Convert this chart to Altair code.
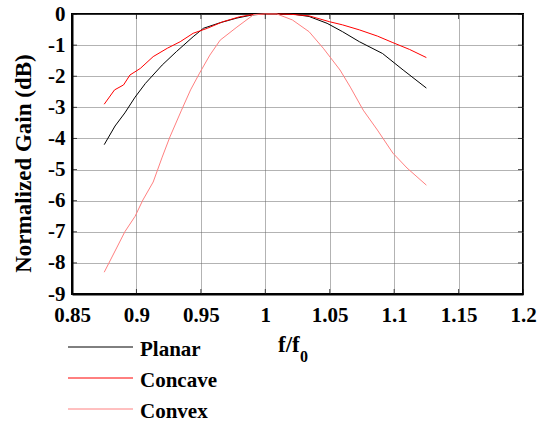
import altair as alt
import pandas as pd

series_names = ["Planar", "Concave", "Convex"]
series_colors = ["#000000", "#ff0000", "#ff8080"]

planar_x = [0.875, 0.8834, 0.891, 0.899, 0.907, 0.920, 0.931, 0.944, 0.952, 0.965, 0.978, 0.990,
            1.0, 1.010, 1.021, 1.034, 1.048, 1.060, 1.073, 1.091, 1.107, 1.125]
planar_y = [-4.2, -3.6, -3.18, -2.67, -2.23, -1.64, -1.21, -0.73, -0.46, -0.28, -0.13, -0.03,
            0.0, 0.0, 0.0, -0.08, -0.3, -0.57, -0.89, -1.27, -1.8, -2.38]

concave_x = [0.875, 0.883, 0.890, 0.895, 0.903, 0.913, 0.924, 0.934, 0.944, 0.955, 0.967, 0.980,
             0.990, 1.0, 1.010, 1.020, 1.034, 1.050, 1.060, 1.073, 1.087, 1.099, 1.112, 1.125]
concave_y = [-2.9, -2.44, -2.28, -1.96, -1.75, -1.37, -1.1, -0.89, -0.62, -0.46, -0.25, -0.09,
             -0.02, 0.0, 0.0, -0.01, -0.06, -0.25, -0.35, -0.51, -0.71, -0.92, -1.14, -1.4]

convex_x = [0.875, 0.885, 0.891, 0.899, 0.905, 0.913, 0.920, 0.926, 0.935, 0.942, 0.949, 0.957,
            0.965, 0.978, 0.991, 1.0, 1.009, 1.021, 1.034, 1.045, 1.058, 1.066, 1.076, 1.087,
            1.099, 1.110, 1.125]
convex_y = [-8.3, -7.49, -7.0, -6.5, -5.98, -5.4, -4.6, -3.95, -3.09, -2.44, -1.9, -1.32,
            -0.84, -0.42, -0.02, 0.0, 0.0, -0.19, -0.57, -1.1, -1.8, -2.35, -3.09, -3.73,
            -4.47, -4.95, -5.5]

x_ticks = [0.85, 0.9, 0.95, 1.0, 1.05, 1.1, 1.15, 1.2]
y_ticks = [0, -1, -2, -3, -4, -5, -6, -7, -8, -9]

x_title = "f/f"
x_title_sub = "0"
y_title = "Normalized Gain (dB)"

rows = []
for name, xs, ys in zip(series_names, [planar_x, concave_x, convex_x], [planar_y, concave_y, convex_y]):
    for i, (a, b) in enumerate(zip(xs, ys)):
        rows.append({"series": name, "f": a, "gain": b, "order": i})
df = pd.DataFrame(rows)

W, H = 451, 280
FONT = "Liberation Serif"
BOLD = "bold"
GRID = "#666666"

xscale = alt.Scale(domain=[0.85, 1.2], nice=False, zero=False)
yscale = alt.Scale(domain=[-9, 0], nice=False, zero=False)
color = alt.Color("series:N", scale=alt.Scale(domain=series_names, range=series_colors), legend=None)

lines = alt.Chart(df).mark_line(strokeWidth=1).encode(
    x=alt.X("f:Q", scale=xscale,
            axis=alt.Axis(values=x_ticks, format="~g", title=None, grid=True,
                          gridColor=GRID, gridDash=[1, 1], gridWidth=1, ticks=False,
                          labelFont=FONT, labelFontSize=21, labelFontWeight=BOLD,
                          labelColor="black", labelPadding=10, labelFlush=False,
                          domainColor="black", domainWidth=2)),
    y=alt.Y("gain:Q", scale=yscale,
            axis=alt.Axis(values=y_ticks, labelExpr="'' + datum.value", title=y_title,
                          grid=True, gridColor=GRID, gridDash=[1, 1], gridWidth=1, ticks=False,
                          labelFont=FONT, labelFontSize=21, labelFontWeight=BOLD,
                          labelColor="black", labelPadding=7, labelFlush=False,
                          domainColor="black", domainWidth=2,
                          titleFont=FONT, titleFontSize=23, titleFontWeight=BOLD,
                          titleColor="black", titleAngle=-90, titleX=-49, titleY=149,
                          titleAlign="center", titleBaseline="middle")),
    color=color,
    order="order:Q",
)

xt = pd.DataFrame({"t": x_ticks})
yt = pd.DataFrame({"t": y_ticks})

tick_style = dict(color="black", thickness=1, size=5)
bottom_ticks = alt.Chart(xt).mark_tick(orient="vertical", **tick_style).encode(
    x=alt.X("t:Q", scale=xscale, axis=None), y=alt.value(H - 2.5))
top_ticks = alt.Chart(xt).mark_tick(orient="vertical", **tick_style).encode(
    x=alt.X("t:Q", scale=xscale, axis=None), y=alt.value(2.5))
left_ticks = alt.Chart(yt).mark_tick(orient="horizontal", **tick_style).encode(
    y=alt.Y("t:Q", scale=yscale, axis=None), x=alt.value(2.5))
right_ticks = alt.Chart(yt).mark_tick(orient="horizontal", **tick_style).encode(
    y=alt.Y("t:Q", scale=yscale, axis=None), x=alt.value(W - 2.5))

leg_df = pd.DataFrame({"series": series_names})
leg_y = alt.Y("series:N", scale=alt.Scale(type="point", domain=series_names, range=[333, 395], padding=0),
              axis=None)
leg_rules = alt.Chart(leg_df).mark_rule(strokeWidth=1).encode(
    x=alt.value(-4), x2=alt.value(61), y=leg_y, color=color)
leg_text = alt.Chart(leg_df).mark_text(align="left", baseline="middle", font=FONT, fontSize=21,
                                       fontWeight=BOLD, dy=3, color="black").encode(
    x=alt.value(68), y=leg_y, text="series:N")

xt_df = pd.DataFrame({"label": [x_title]})
xs_df = pd.DataFrame({"label": [x_title_sub]})
xtitle = alt.Chart(xt_df).mark_text(align="left", baseline="alphabetic", font=FONT, fontSize=23,
                                    fontWeight=BOLD, color="black").encode(
    x=alt.value(206), y=alt.value(338), text="label:N")
xsub = alt.Chart(xs_df).mark_text(align="left", baseline="alphabetic", font=FONT, fontSize=16,
                                  fontWeight=BOLD, color="black").encode(
    x=alt.value(228), y=alt.value(348), text="label:N")

chart = alt.layer(
    lines, bottom_ticks, top_ticks, left_ticks, right_ticks, leg_rules, leg_text, xtitle, xsub
).resolve_scale(y="independent").resolve_axis(x="independent").properties(
    width=W, height=H,
    autosize=alt.AutoSizeParams(type="none"),
    padding={"left": 72, "top": 14, "right": 16, "bottom": 135},
    background="white",
).configure_view(stroke="black", strokeWidth=2)

chart.save("out.html", embed_options={"renderer": "svg", "actions": False})
